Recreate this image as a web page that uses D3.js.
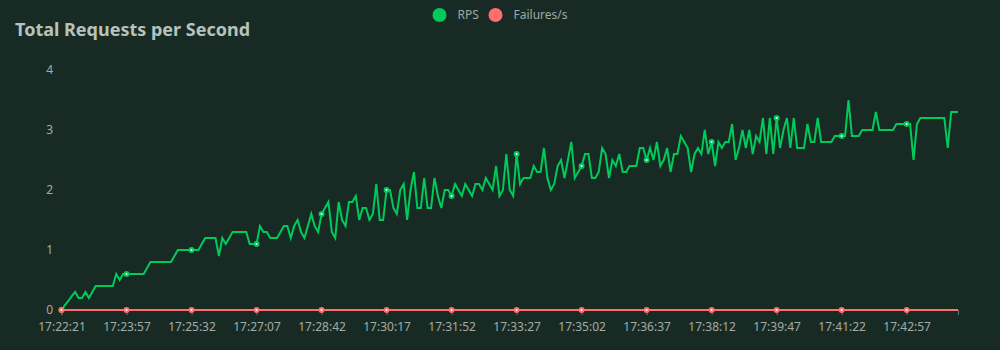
<!DOCTYPE html>
<html><head><meta charset="utf-8">
<script src="https://cdn.jsdelivr.net/npm/d3@7"></script>
<style>html,body{margin:0;padding:0;background:#172b24;} svg{display:block;font-family:"Noto Sans","Open Sans",sans-serif;}</style>
</head><body><svg id="c" width="1000" height="350"></svg>
<script>
const title = "Total Requests per Second";
const seriesNames = ["RPS", "Failures/s"];
const seriesColors = ["#00ca5a", "#ff6d6d"];
const tickLabels = ["17:22:21","17:23:57","17:25:32","17:27:07","17:28:42","17:30:17","17:31:52",
  "17:33:27","17:35:02","17:36:37","17:38:12","17:39:47","17:41:22","17:42:57"];
const labelEvery = 19;
const yTicks = [0, 1, 2, 3, 4];
const rps = [
  0,0.08,0.15,0.23,0.3,0.2,0.2,0.3,0.2,0.3,
  0.4,0.4,0.4,0.4,0.4,0.4,0.6,0.5,0.6,0.6,
  0.6,0.6,0.6,0.6,0.6,0.7,0.8,0.8,0.8,0.8,
  0.8,0.8,0.8,0.9,1.0,1.0,1.0,1.0,1.0,1.0,
  1.0,1.1,1.2,1.2,1.2,1.2,0.9,1.2,1.1,1.2,
  1.3,1.3,1.3,1.3,1.3,1.1,1.1,1.1,1.4,1.3,
  1.3,1.2,1.2,1.2,1.3,1.4,1.4,1.2,1.4,1.5,
  1.3,1.2,1.4,1.6,1.4,1.3,1.6,1.7,1.8,1.3,
  1.2,1.8,1.5,1.4,1.8,1.8,1.9,1.5,1.7,1.7,
  1.5,1.6,2.1,1.5,1.5,2.0,2.0,1.7,1.6,2.0,
  2.1,1.5,2.0,2.3,1.7,1.7,2.2,1.7,1.7,2.2,
  1.9,1.7,2.0,2.0,1.9,2.1,2.0,1.9,2.1,2.0,
  1.9,2.1,2.1,2.0,2.2,2.1,2.0,2.4,1.9,2.0,
  2.6,2.0,1.9,2.6,2.1,2.2,2.2,2.2,2.4,2.3,
  2.3,2.7,2.2,2.0,2.1,2.4,2.5,2.2,2.5,2.8,
  2.2,2.3,2.4,2.6,2.6,2.2,2.2,2.3,2.7,2.6,
  2.2,2.5,2.4,2.6,2.3,2.3,2.4,2.4,2.4,2.7,
  2.7,2.5,2.7,2.5,2.8,2.4,2.5,2.7,2.3,2.6,
  2.6,2.9,2.8,2.7,2.3,2.6,2.7,2.6,3.0,2.6,
  2.8,2.4,2.8,2.7,2.8,2.8,3.1,2.5,2.7,3.0,
  2.7,3.0,2.6,2.9,2.8,3.2,2.6,3.2,2.6,3.2,
  2.7,3.0,3.2,2.7,3.2,2.7,2.7,2.7,3.1,2.8,
  2.8,3.2,2.8,2.8,2.8,2.8,2.9,2.9,2.9,2.9,
  3.5,2.9,2.9,2.9,3.0,3.0,3.0,3.0,3.3,3.0,
  3.0,3.0,3.0,3.0,3.1,3.1,3.1,3.1,3.1,2.5,
  3.1,3.2,3.2,3.2,3.2,3.2,3.2,3.2,3.2,2.7,
  3.3,3.3,3.3
];
const failures = [
  0,0,0,0,0,0,0,0,0,0,0,0,0,0,0,0,0,0,0,0,
  0,0,0,0,0,0,0,0,0,0,0,0,0,0,0,0,0,0,0,0,
  0,0,0,0,0,0,0,0,0,0,0,0,0,0,0,0,0,0,0,0,
  0,0,0,0,0,0,0,0,0,0,0,0,0,0,0,0,0,0,0,0,
  0,0,0,0,0,0,0,0,0,0,0,0,0,0,0,0,0,0,0,0,
  0,0,0,0,0,0,0,0,0,0,0,0,0,0,0,0,0,0,0,0,
  0,0,0,0,0,0,0,0,0,0,0,0,0,0,0,0,0,0,0,0,
  0,0,0,0,0,0,0,0,0,0,0,0,0,0,0,0,0,0,0,0,
  0,0,0,0,0,0,0,0,0,0,0,0,0,0,0,0,0,0,0,0,
  0,0,0,0,0,0,0,0,0,0,0,0,0,0,0,0,0,0,0,0,
  0,0,0,0,0,0,0,0,0,0,0,0,0,0,0,0,0,0,0,0,
  0,0,0,0,0,0,0,0,0,0,0,0,0,0,0,0,0,0,0,0,
  0,0,0,0,0,0,0,0,0,0,0,0,0,0,0,0,0,0,0,0,
  0,0,0
];

const W = 1000, H = 350;
const bg = "#172b24";
const svg = d3.select("#c");
svg.append("rect").attr("width", W).attr("height", H).attr("fill", bg);

const n = rps.length;
const x = d3.scaleLinear().domain([0, n - 1]).range([61.5, 958]);
const y = d3.scaleLinear().domain([0, 4]).range([310, 70]);

// title
svg.append("text").attr("x", 15).attr("y", 36).attr("font-size", 18).attr("font-weight", 700)
  .attr("fill", "#b7c2bd").text(title);

// legend
const legX = [439.5, 495.5];
seriesNames.forEach((s, k) => {
  svg.append("circle").attr("cx", legX[k]).attr("cy", 15).attr("r", 7).attr("fill", seriesColors[k]);
  svg.append("text").attr("x", legX[k] + 18).attr("y", 19).attr("font-size", 12)
    .attr("fill", "#9fa8a3").text(s);
});

// y axis labels
const yAxis = d3.axisLeft(y).tickValues(yTicks).tickSize(0).tickPadding(8).tickFormat(d3.format("d"));
const gy = svg.append("g").attr("transform", "translate(61,0)").call(yAxis);
gy.select(".domain").remove();
gy.selectAll("text").attr("font-size", 12).attr("fill", "#a3aba7").attr("font-family", "Noto Sans, Open Sans, sans-serif");

// x axis
const tickIdx = tickLabels.map((_, k) => k * labelEvery);
const xAxis = d3.axisBottom(x).tickValues(tickIdx.concat([n - 1])).tickSize(5).tickPadding(7)
  .tickFormat((d) => { const k = tickIdx.indexOf(d); return k >= 0 ? tickLabels[k] : ""; });
const gx = svg.append("g").attr("transform", "translate(0,310)").call(xAxis);
gx.select(".domain").attr("stroke", "#6e7079");
gx.selectAll(".tick line").attr("stroke", "#6e7079");
gx.selectAll("text").attr("font-size", 12).attr("fill", "#a3aba7").attr("font-family", "Noto Sans, Open Sans, sans-serif");

// series
const line = d3.line().x((d, i) => x(i)).y(d => y(d));
[rps, failures].forEach((data, k) => {
  svg.append("path").datum(data).attr("d", line).attr("fill", "none")
    .attr("stroke", seriesColors[k]).attr("stroke-width", 2);
  svg.selectAll(null).data(tickIdx).enter().append("circle")
    .attr("cx", i => x(i)).attr("cy", i => y(data[i])).attr("r", 2)
    .attr("fill", "#ffffff").attr("stroke", seriesColors[k]).attr("stroke-width", 2);
});
</script></body></html>
